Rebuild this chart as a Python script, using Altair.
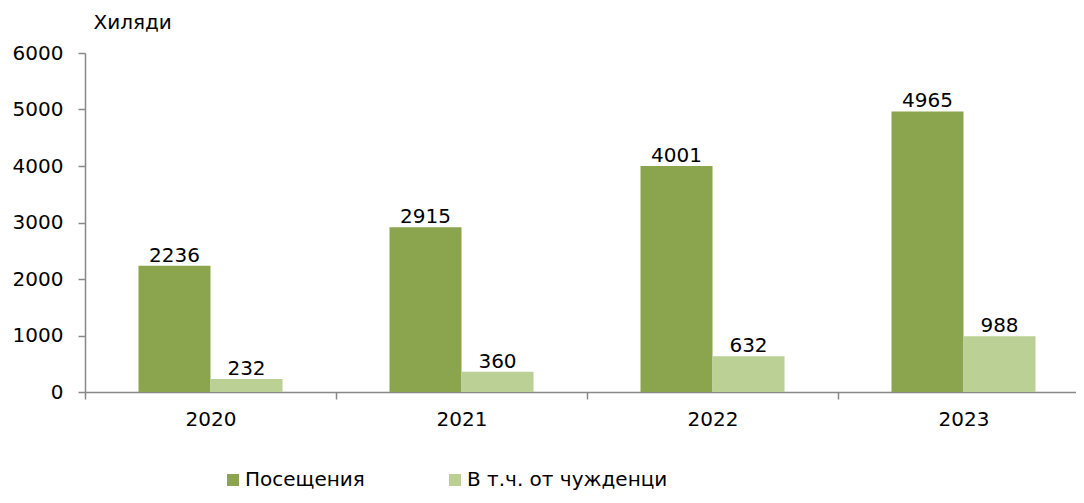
import altair as alt
import pandas as pd

years = ["2020", "2021", "2022", "2023"]
series = ["Посещения", "В т.ч. от чужденци"]
visits = [2236, 2915, 4001, 4965]
foreigners = [232, 360, 632, 988]
colors = ["#8BA54E", "#BAD095"]

rows = []
for y, v, f in zip(years, visits, foreigners):
    rows.append({"year": y, "series": series[0], "value": v})
    rows.append({"year": y, "series": series[1], "value": f})
df = pd.DataFrame(rows)

FONT = "DejaVu Sans"

x = alt.X("year:N", title=None, sort=years,
          scale=alt.Scale(paddingInner=0, paddingOuter=0, range=[0, 1004]),
          axis=alt.Axis(labelAngle=0, tickBand="extent", labelFontSize=20, labelFont=FONT,
                        labelColor="#000000", domainColor="#888888", tickColor="#888888",
                        tickSize=7, labelPadding=10, domainWidth=1.5, tickWidth=1.5))
xo = alt.XOffset("series:N", sort=series, scale=alt.Scale(paddingOuter=0.743, paddingInner=0))
y = alt.Y("value:Q", title="Хиляди",
          scale=alt.Scale(domain=[0, 6000], nice=False),
          axis=alt.Axis(values=[0, 1000, 2000, 3000, 4000, 5000, 6000], grid=False, format="d",
                        labelFontSize=20, labelFont=FONT, labelColor="#000000",
                        domainColor="#888888", tickColor="#888888", tickSize=7,
                        labelPadding=15, domainWidth=1.5, tickWidth=1.5,
                        titleAngle=0, titleX=8, titleY=-25, titleAlign="left",
                        titleBaseline="alphabetic", titleFontSize=20, titleFont=FONT,
                        titleFontWeight="normal", titleColor="#000000"))
color = alt.Color("series:N", sort=series,
                  scale=alt.Scale(domain=series, range=colors),
                  legend=alt.Legend(title=None, orient="none", direction="horizontal",
                                    legendX=138, legendY=417, symbolType="square",
                                    symbolSize=144, symbolStrokeWidth=0, labelFontSize=20,
                                    labelFont=FONT, labelColor="#000000", labelOffset=2,
                                    labelLimit=400, columnPadding=80, symbolOpacity=1))

bars = alt.Chart(df).mark_bar(opacity=1).encode(x=x, xOffset=xo, y=y, color=color)
labels = alt.Chart(df).mark_text(baseline="alphabetic", dy=-4, fontSize=20, font=FONT,
                                 color="#000000").encode(
    x=x, xOffset=xo, y=y, text=alt.Text("value:Q", format="d"))

chart = (bars + labels).properties(
    width=991, height=339,
    autosize=alt.AutoSizeParams(type="none"),
    padding={"left": 77, "top": 45, "right": 0, "bottom": 103},
).configure_view(stroke=None)

chart.save("out.html", embed_options={"renderer": "svg", "actions": False})
